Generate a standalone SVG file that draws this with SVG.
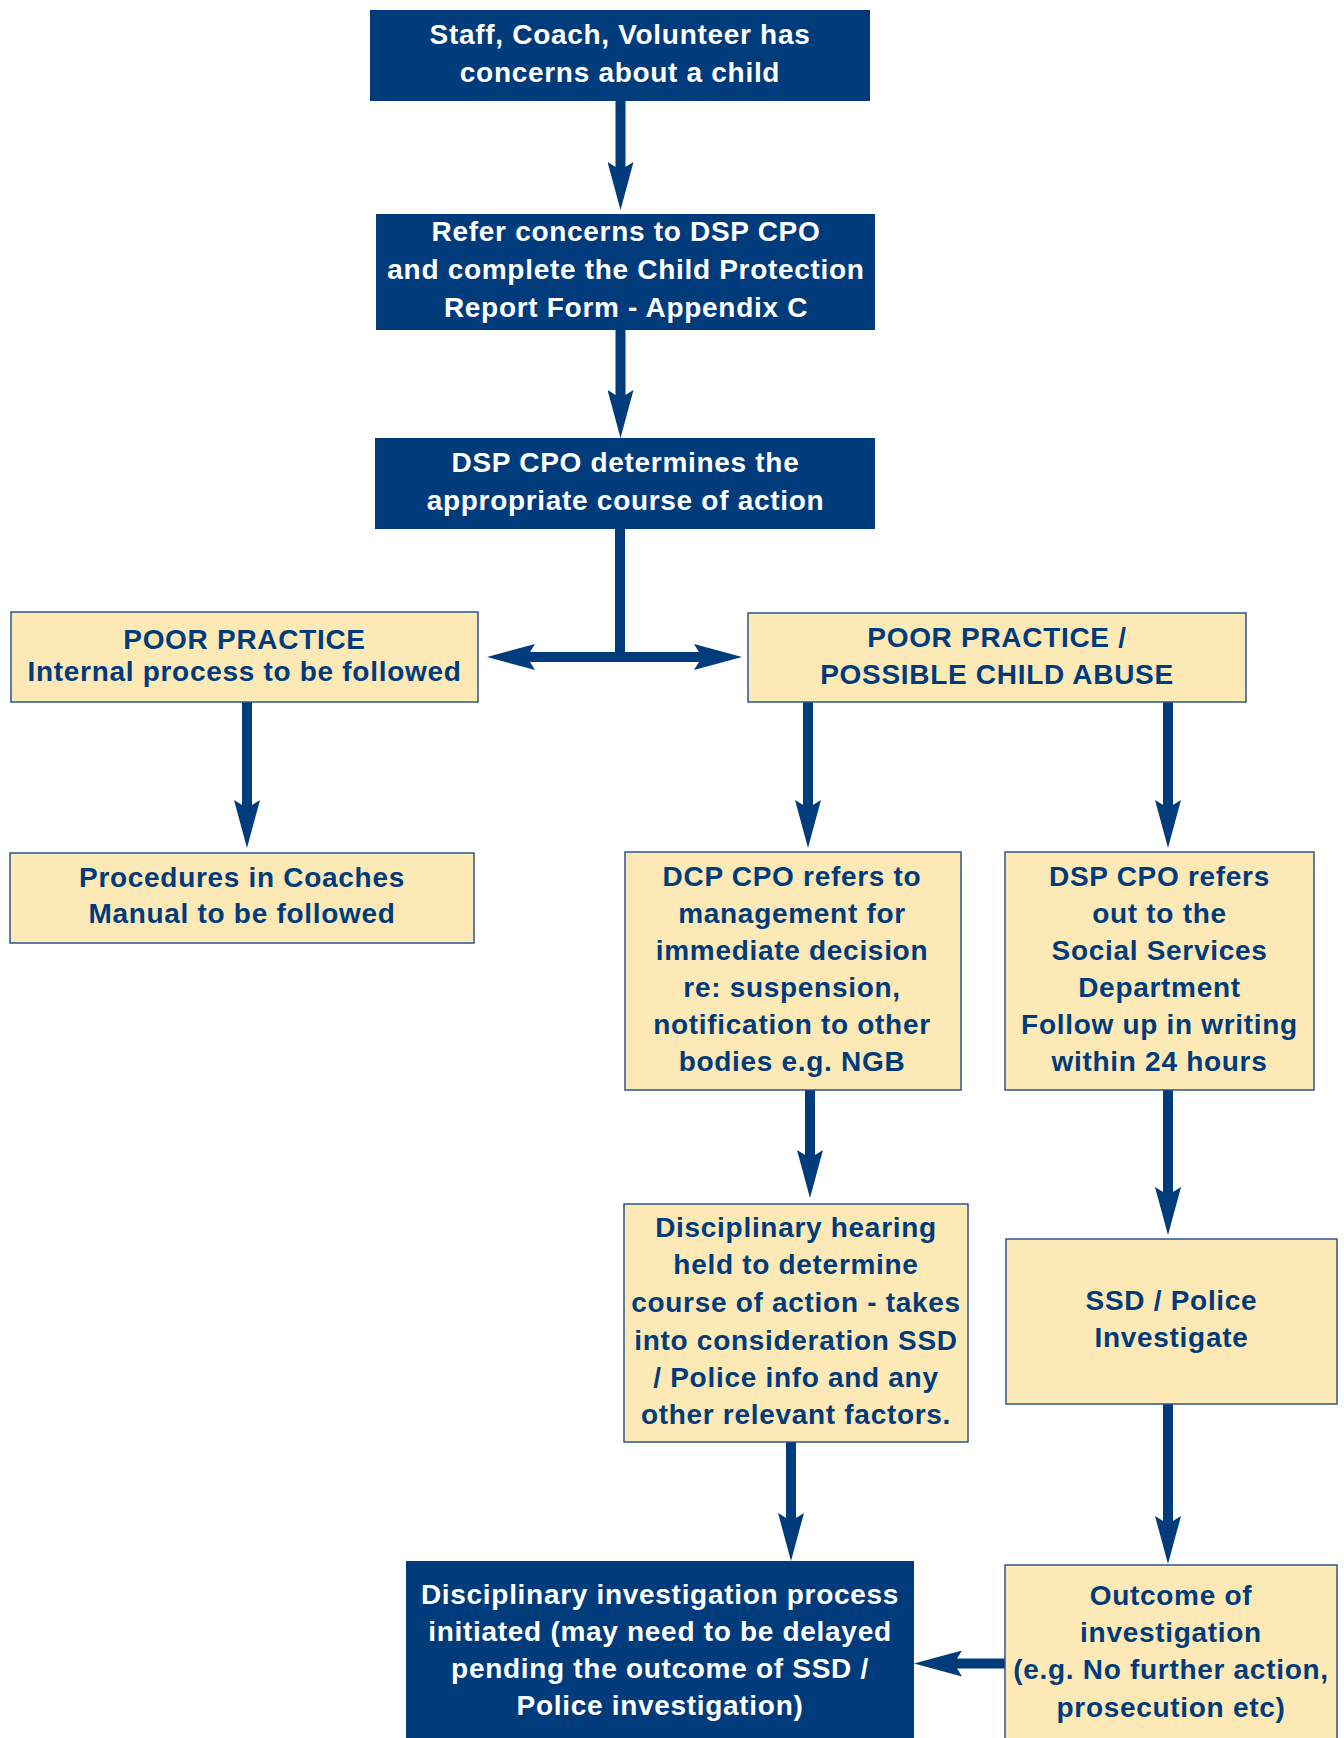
<svg xmlns="http://www.w3.org/2000/svg" width="1344" height="1738" viewBox="0 0 1344 1738">
<style>
  .dark { fill: #003b7c; }
  .light { fill: #fde9b6; stroke: #2d5590; stroke-width: 1.5; }
  text { font-family: "Liberation Sans", Arial, Helvetica, sans-serif; font-weight: bold; font-size: 28px; letter-spacing: 0.7px; text-anchor: middle; }
  .wt { fill: #ffffff; }
  .bt { fill: #003b7c; }
  .conn { fill: none; stroke: #003b7c; stroke-width: 10; }
  .arr { marker-end: url(#ah); }
  .arr2 { marker-start: url(#ah); marker-end: url(#ah); }
</style>
<defs>
  <marker id="ah" viewBox="0 0 48 26" refX="18" refY="13" markerWidth="48" markerHeight="26" markerUnits="userSpaceOnUse" orient="auto-start-reverse">
    <path d="M0,0 L48,13 L0,26 L8,13 Z" fill="#003b7c"/>
  </marker>
</defs>
<rect x="0" y="0" width="1344" height="1738" fill="#ffffff"/>

<g id="connectors">
  <path class="conn arr" d="M620.5,101 V180"/>
  <path class="conn arr" d="M620.5,330 V408"/>
  <path class="conn" d="M620,529 V662"/>
  <path class="conn arr2" d="M517,657 H712"/>
  <path class="conn arr" d="M247,702 V818"/>
  <path class="conn arr" d="M808,702 V818"/>
  <path class="conn arr" d="M1168,702 V818"/>
  <path class="conn arr" d="M810,1090 V1168"/>
  <path class="conn arr" d="M1168,1090 V1205"/>
  <path class="conn arr" d="M791,1442 V1531"/>
  <path class="conn arr" d="M1168,1404 V1534"/>
  <path class="conn arr" d="M1005,1663.5 H944"/>
</g>

<g id="n1">
  <rect class="dark" x="370" y="10" width="500" height="91"/>
  <text class="wt" x="620" y="44">Staff, Coach, Volunteer has</text>
  <text class="wt" x="620" y="82">concerns about a child</text>
</g>

<g id="n2">
  <rect class="dark" x="376" y="214" width="499" height="116"/>
  <text class="wt" x="626" y="241">Refer concerns to DSP CPO</text>
  <text class="wt" x="626" y="279">and complete the Child Protection</text>
  <text class="wt" x="626" y="316.5">Report Form - Appendix C</text>
</g>

<g id="n3">
  <rect class="dark" x="375" y="438" width="500" height="91"/>
  <text class="wt" x="625.5" y="472">DSP CPO determines the</text>
  <text class="wt" x="625.5" y="510">appropriate course of action</text>
</g>

<g id="n4">
  <rect class="light" x="11" y="612" width="467" height="90"/>
  <text class="bt" x="244.5" y="649">POOR PRACTICE</text>
  <text class="bt" x="244.5" y="681">Internal process to be followed</text>
</g>

<g id="n5">
  <rect class="light" x="748" y="613" width="498" height="89"/>
  <text class="bt" x="997" y="647">POOR PRACTICE /</text>
  <text class="bt" x="997" y="684">POSSIBLE CHILD ABUSE</text>
</g>

<g id="n6">
  <rect class="light" x="10" y="853" width="464" height="90"/>
  <text class="bt" x="242" y="887">Procedures in Coaches</text>
  <text class="bt" x="242" y="923">Manual to be followed</text>
</g>

<g id="n7">
  <rect class="light" x="625" y="852" width="336" height="238"/>
  <text class="bt" x="792" y="886">DCP CPO refers to</text>
  <text class="bt" x="792" y="923">management for</text>
  <text class="bt" x="792" y="960">immediate decision</text>
  <text class="bt" x="792" y="997">re: suspension,</text>
  <text class="bt" x="792" y="1034">notification to other</text>
  <text class="bt" x="792" y="1071">bodies e.g. NGB</text>
</g>

<g id="n8">
  <rect class="light" x="1005" y="852" width="309" height="238"/>
  <text class="bt" x="1159.5" y="886">DSP CPO refers</text>
  <text class="bt" x="1159.5" y="923">out to the</text>
  <text class="bt" x="1159.5" y="960">Social Services</text>
  <text class="bt" x="1159.5" y="997">Department</text>
  <text class="bt" x="1159.5" y="1034">Follow up in writing</text>
  <text class="bt" x="1159.5" y="1071">within 24 hours</text>
</g>

<g id="n9">
  <rect class="light" x="624" y="1204" width="344" height="238"/>
  <text class="bt" x="796" y="1237">Disciplinary hearing</text>
  <text class="bt" x="796" y="1274">held to determine</text>
  <text class="bt" x="796" y="1311.5">course of action - takes</text>
  <text class="bt" x="796" y="1349.5">into consideration SSD</text>
  <text class="bt" x="796" y="1387">/ Police info and any</text>
  <text class="bt" x="796" y="1424">other relevant factors.</text>
</g>

<g id="n10">
  <rect class="light" x="1006" y="1239" width="331" height="165"/>
  <text class="bt" x="1171.5" y="1310">SSD / Police</text>
  <text class="bt" x="1171.5" y="1347">Investigate</text>
</g>

<g id="n11">
  <rect class="dark" x="406" y="1561" width="508" height="190"/>
  <text class="wt" x="660" y="1603.5">Disciplinary investigation process</text>
  <text class="wt" x="660" y="1641">initiated (may need to be delayed</text>
  <text class="wt" x="660" y="1678">pending the outcome of SSD /</text>
  <text class="wt" x="660" y="1715">Police investigation)</text>
</g>

<g id="n12">
  <rect class="light" x="1005" y="1565" width="332" height="190"/>
  <text class="bt" x="1171" y="1605">Outcome of</text>
  <text class="bt" x="1171" y="1642">investigation</text>
  <text class="bt" x="1171" y="1679">(e.g. No further action,</text>
  <text class="bt" x="1171" y="1717">prosecution etc)</text>
</g>
</svg>
